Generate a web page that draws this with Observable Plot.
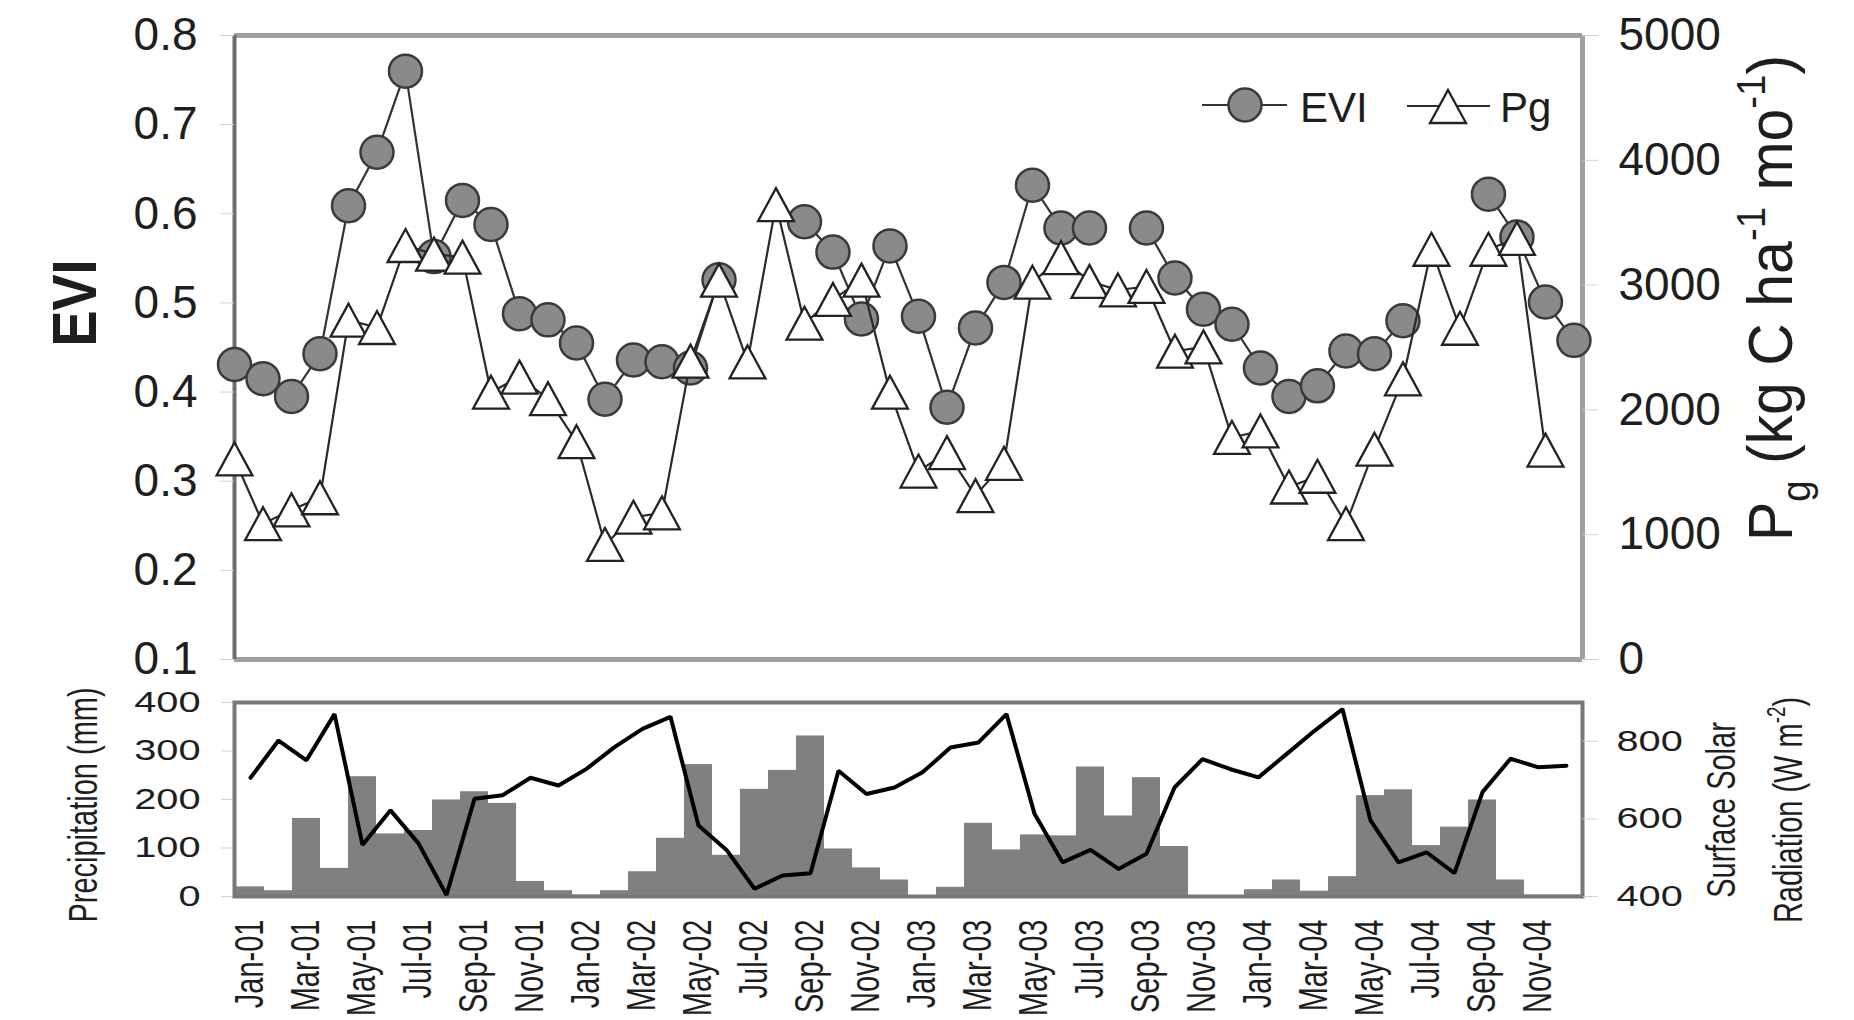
<!DOCTYPE html>
<html>
<head>
<meta charset="utf-8">
<script src="https://cdn.jsdelivr.net/npm/d3@7"></script>
<script src="https://cdn.jsdelivr.net/npm/@observablehq/plot@0.6"></script>
<style>
  html, body { margin: 0; padding: 0; background: #fff; }
  #wrap { position: relative; width: 1854px; height: 1020px; overflow: hidden; background: #fff; }
  #wrap svg { position: absolute; left: 0; }
  g[aria-label$="-axis tick"] { stroke: #d4d4d4; }
</style>
</head>
<body>
<div id="wrap"></div>
<script>
// ---------------- data ----------------
const months = [
  "Jan-01","Feb-01","Mar-01","Apr-01","May-01","Jun-01","Jul-01","Aug-01","Sep-01","Oct-01","Nov-01","Dec-01",
  "Jan-02","Feb-02","Mar-02","Apr-02","May-02","Jun-02","Jul-02","Aug-02","Sep-02","Oct-02","Nov-02","Dec-02",
  "Jan-03","Feb-03","Mar-03","Apr-03","May-03","Jun-03","Jul-03","Aug-03","Sep-03","Oct-03","Nov-03","Dec-03",
  "Jan-04","Feb-04","Mar-04","Apr-04","May-04","Jun-04","Jul-04","Aug-04","Sep-04","Oct-04","Nov-04","Dec-04"
];
const xTickLabels = months.filter((m, i) => i % 2 === 0);

// EVI (null = missing)
const evi = [
  0.431, 0.415, 0.395, 0.443, 0.609, 0.669, 0.760, 0.552, 0.615, 0.588, 0.488, 0.481,
  0.455, 0.392, 0.436, 0.434, 0.427, 0.526, null,  null,  0.591, 0.557, 0.482, 0.564,
  0.485, 0.383, 0.472, 0.523, 0.632, 0.584, 0.584, null,  0.584, 0.528, 0.493, 0.476,
  0.427, 0.395, 0.407, 0.446, 0.443, 0.480, null,  null,  0.622, 0.574, 0.501, 0.458
];
// Pg (kg C ha-1 mo-1)
const pg = [
  1607, 1088, 1199, 1296, 2719, 2660, 3317, 3248, 3224, 2142, 2263, 2090,
  1745,  922, 1140, 1175, 2391, 3040, 2384, 3645, 2695, 2885, 3040, 2142,
  1510, 1658, 1313, 1572, 3023, 3220, 3030, 2961, 2989, 2470, 2505, 1779,
  1831, 1382, 1468, 1088, 1685, 2249, 3287, 2654, 3287, 3374, 1678, null
];
// Precipitation (mm)
const precip = [
  20, 12, 161, 58, 247, 129, 136, 199, 216, 192, 31, 12,
  3, 12, 51, 120, 272, 85, 221, 260, 331, 98, 59, 34,
  2, 19, 151, 96, 127, 125, 267, 166, 245, 103, 2, 2,
  14, 34, 11, 41, 208, 220, 105, 143, 199, 34, 3, 3
];
// Surface solar radiation (W m-2)
const solar = [
  706, 802, 751, 870, 533, 622, 537, 404, 652, 661, 706, 686,
  729, 785, 832, 863, 583, 520, 420, 454, 460, 724, 664, 681,
  720, 784, 797, 870, 613, 488, 520, 471, 510, 681, 754, 728,
  707, 767, 827, 883, 596, 488, 514, 460, 669, 755, 733, 737
];

const eviTicks = [0.1, 0.2, 0.3, 0.4, 0.5, 0.6, 0.7, 0.8];
const pgTicks = [0, 1000, 2000, 3000, 4000, 5000];
const precipTicks = [0, 100, 200, 300, 400];
const solarTicks = [400, 600, 800];

// ---------------- layout ----------------
const W = 1854, ML = 234, MR = 272;
const TOP = {h: 680, t: 35, b: 21};
const BOT = {top: 680, h: 340, t: 22, b: 124};
const xTopDomain = [0, 47.3];
const FONT = "'Liberation Sans', Arial, sans-serif";
const INK = "#1e1e1e";

const eviRows = months.map((m, i) => ({i, m, v: evi[i]}));
const pgRows = months.map((m, i) => ({i, m, v: pg[i]}));
const precipRows = months.map((m, i) => ({m, v: precip[i]}));
const solarRows = months.map((m, i) => ({m, v: solar[i]}));

// triangle marker centred on its bounding box (Excel style)
const triangle = {
  draw(ctx, size) {
    const r = Math.sqrt(size / Math.PI);
    const h = r * 1.03, w = r * 1.12;
    ctx.moveTo(0, -h); ctx.lineTo(w, h); ctx.lineTo(-w, h); ctx.closePath();
  }
};

const topStyle = {background: "transparent", fontFamily: FONT, fontSize: "46px", color: INK, overflow: "visible"};
const botStyle = {background: "transparent", fontFamily: FONT, fontSize: "29px", color: INK, overflow: "visible"};

// ---- top panel: EVI (left axis)
const topL = Plot.plot({
  width: W, height: TOP.h, marginLeft: ML, marginRight: MR, marginTop: TOP.t, marginBottom: TOP.b,
  style: topStyle,
  x: {domain: xTopDomain, axis: null},
  y: {domain: [0.1, 0.8], axis: null},
  marks: [
    Plot.ruleY([0.8, 0.1], {stroke: "#a0a0a0", strokeWidth: 5}),
    Plot.ruleX([xTopDomain[1]], {stroke: "#a0a0a0", strokeWidth: 5}),
    Plot.ruleX([xTopDomain[0]], {stroke: "#6e6e6e", strokeWidth: 4}),
    Plot.axisY({anchor: "left", ticks: eviTicks, tickSize: 14, tickPadding: 23, tickFormat: d => d.toFixed(1), label: null}),
    Plot.line(eviRows, {x: "i", y: "v", stroke: "#333", strokeWidth: 2.2}),
    Plot.dot(eviRows, {x: "i", y: "v", r: 16.5, fill: "#8a8a8a", stroke: "#3a3a3a", strokeWidth: 2.5})
  ]
});

// ---- top panel: Pg (right axis)
const topR = Plot.plot({
  width: W, height: TOP.h, marginLeft: ML, marginRight: MR, marginTop: TOP.t, marginBottom: TOP.b,
  style: topStyle,
  x: {domain: xTopDomain, axis: null},
  y: {domain: [0, 5000], axis: null},
  marks: [
    Plot.axisY({anchor: "right", ticks: pgTicks, tickSize: 15, tickPadding: 21, tickFormat: d3.format("d"), label: null}),
    Plot.line(pgRows, {x: "i", y: "v", stroke: "#2a2a2a", strokeWidth: 2.2}),
    Plot.dot(pgRows, {x: "i", y: "v", symbol: triangle, r: 16, fill: "white", stroke: "#222", strokeWidth: 2.3})
  ]
});

// ---- bottom panel: precipitation bars (left axis) + month labels
const botL = Plot.plot({
  width: W, height: BOT.h, marginLeft: ML, marginRight: MR, marginTop: BOT.t, marginBottom: BOT.b,
  style: botStyle,
  x: {type: "band", domain: months, padding: 0, axis: null},
  y: {domain: [0, 400], axis: null},
  marks: [
    Plot.barY(precipRows, {x: "m", y: "v", fill: "#808080", insetLeft: 0, insetRight: 0}),
    Plot.axisX({anchor: "bottom", ticks: xTickLabels, tickRotate: -90, tickSize: 0, tickPadding: 23, label: null}),
    Plot.axisY({anchor: "left", ticks: precipTicks, tickSize: 13, tickPadding: 21, label: null}),
    Plot.frame({stroke: "#787878", strokeWidth: 4})
  ]
});

// ---- bottom panel: solar radiation line (right axis)
const botR = Plot.plot({
  width: W, height: BOT.h, marginLeft: ML, marginRight: MR, marginTop: BOT.t, marginBottom: BOT.b,
  style: botStyle,
  x: {type: "band", domain: months, padding: 0, axis: null},
  y: {domain: [400, 900], axis: null},
  marks: [
    Plot.axisY({anchor: "right", ticks: solarTicks, tickSize: 15, tickPadding: 19, label: null}),
    Plot.line(solarRows, {x: "m", y: "v", stroke: "#000", strokeWidth: 4, strokeLinejoin: "miter"})
  ]
});

// the lower figure's lettering is wide: stretch glyphs horizontally on screen
const SX = 1.37;
function stretchTexts(svg, s) {
  d3.select(svg).selectAll("text").each(function () {
    const el = d3.select(this);
    const tr = el.attr("transform") || "";
    if (!tr) return;
    const rotated = /rotate/.test(tr);
    el.attr("transform", `${tr} ${rotated ? `scale(1,${s})` : `scale(${s},1)`}`);
  });
}
stretchTexts(botL, SX);
stretchTexts(botR, SX);

// rotated axis titles with sub/superscripts
function addTitle(svg, {x, y, parts, size, weight = "normal", sx = 1}) {
  const t = d3.select(svg).append("text")
    .attr("transform", `translate(${x},${y}) rotate(-90) scale(1,${sx})`)
    .attr("text-anchor", "middle")
    .attr("font-family", FONT).attr("font-size", size).attr("font-weight", weight)
    .attr("fill", INK).attr("stroke", "none");
  let shift = 0;
  for (const [s, kind] of parts) {
    const ts = t.append("tspan").text(s);
    const target = kind === "sub" ? 0.28 * size : kind === "sup" ? -0.42 * size : 0;
    if (target - shift !== 0) ts.attr("dy", target - shift);
    shift = target;
    if (kind) ts.attr("font-size", size * 0.65);
  }
}

addTitle(topL, {x: 96, y: 303, size: 54, weight: "bold", sx: 1.15, parts: [["EVI", ""]]});
addTitle(topR, {x: 1792, y: 298, size: 59, sx: 1.08, parts: [
  ["P", ""], ["g", "sub"], [" (kg C ha", ""], ["-1", "sup"], [" mo", ""], ["-1", "sup"], [")", ""]
]});
addTitle(botL, {x: 97, y: 805 - BOT.top, size: 29, sx: SX, parts: [["Precipitation (mm)", ""]]});
addTitle(botR, {x: 1735, y: 810 - BOT.top, size: 29, sx: SX, parts: [["Surface Solar", ""]]});
addTitle(botR, {x: 1802, y: 810 - BOT.top, size: 29, sx: SX, parts: [
  ["Radiation (W m", ""], ["-2", "sup"], [")", ""]
]});

// legend (inside the upper panel)
const lg = d3.select(topR).append("g").attr("font-family", FONT).attr("font-size", 42)
  .attr("fill", INK).attr("text-anchor", "start");
lg.append("line").attr("x1", 1202).attr("x2", 1287).attr("y1", 105).attr("y2", 105)
  .attr("stroke", "#333").attr("stroke-width", 2.2);
lg.append("circle").attr("cx", 1245).attr("cy", 105).attr("r", 16.5)
  .attr("fill", "#8a8a8a").attr("stroke", "#3a3a3a").attr("stroke-width", 2.5);
lg.append("text").attr("x", 1300).attr("y", 122).attr("text-anchor", "start").text("EVI");
lg.append("line").attr("x1", 1407).attr("x2", 1490).attr("y1", 106).attr("y2", 106)
  .attr("stroke", "#2a2a2a").attr("stroke-width", 2.2);
lg.append("path").attr("d", "M1448,90L1466,123L1430,123Z")
  .attr("fill", "white").attr("stroke", "#222").attr("stroke-width", 2.3);
lg.append("text").attr("x", 1500).attr("y", 122).attr("text-anchor", "start").text("Pg");

// assemble
const wrap = document.getElementById("wrap");
for (const [svg, top] of [[topL, 0], [topR, 0], [botL, BOT.top], [botR, BOT.top]]) {
  svg.style.top = top + "px";
  svg.style.maxWidth = "none";
  wrap.appendChild(svg);
}
</script>
</body>
</html>
